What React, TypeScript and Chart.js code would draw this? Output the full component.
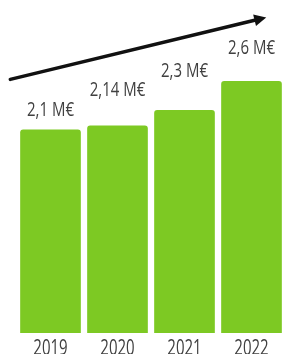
import React, { useEffect, useRef } from "react";
import { Chart, registerables } from "chart.js";

Chart.register(...registerables);

const years = ["2019", "2020", "2021", "2022"];
const revenue = [2.1, 2.14, 2.3, 2.6];
const valueLabels = ["2,1 M€", "2,14 M€", "2,3 M€", "2,6 M€"];
const labelGap = [14, 30, 33, 27];
const arrowFrom = { x: -0.6, y: 2.62 };
const arrowTo = { x: 3.22, y: 3.26 };

const GREEN = "#7dc923";
const TEXT = "#404040";
const FONT = "'Open Sans', 'Noto Sans', sans-serif";

function stretchedText(ctx: any, text: string, x: number, baseline: number, sy: number) {
  ctx.save();
  ctx.translate(x, baseline);
  ctx.scale(1, sy);
  ctx.fillText(text, 0, 0);
  ctx.restore();
}

const decorPlugin = {
  id: "decor",
  afterDatasetsDraw(chart: any) {
    const ctx = chart.ctx;
    const xs = chart.scales.x;
    const ys = chart.scales.y;
    const meta = chart.getDatasetMeta(0);
    ctx.save();
    ctx.fillStyle = TEXT;
    ctx.font = `15px ${FONT}`;
    ctx.textAlign = "center";
    ctx.textBaseline = "alphabetic";
    meta.data.forEach((bar: any, i: number) => {
      stretchedText(ctx, valueLabels[i], bar.x, bar.y - labelGap[i], 1.3);
    });
    // category labels under the bars
    const labels = chart.data.labels as string[];
    labels.forEach((t, i) => {
      stretchedText(ctx, t, xs.getPixelForTick(i), chart.chartArea.bottom + 21.5, 1.45);
    });
    // arrow
    const x1 = xs.getPixelForValue(arrowFrom.x);
    const y1 = ys.getPixelForValue(arrowFrom.y);
    const x2 = xs.getPixelForValue(arrowTo.x);
    const y2 = ys.getPixelForValue(arrowTo.y);
    const ang = Math.atan2(y2 - y1, x2 - x1);
    const head = 12;
    const bx = x2 - head * Math.cos(ang);
    const by = y2 - head * Math.sin(ang);
    ctx.strokeStyle = "#111";
    ctx.fillStyle = "#111";
    ctx.lineWidth = 3.5;
    ctx.lineCap = "round";
    ctx.beginPath();
    ctx.moveTo(x1, y1);
    ctx.lineTo(bx, by);
    ctx.stroke();
    ctx.beginPath();
    ctx.moveTo(x2, y2);
    ctx.lineTo(bx + 6 * Math.sin(ang), by - 6 * Math.cos(ang));
    ctx.lineTo(bx - 6 * Math.sin(ang), by + 6 * Math.cos(ang));
    ctx.closePath();
    ctx.fill();
    ctx.restore();
  },
};

export default function App() {
  const ref = useRef<HTMLCanvasElement | null>(null);
  useEffect(() => {
    document.body.style.margin = "0";
    const chart = new Chart(ref.current!, {
      type: "bar",
      data: {
        labels: years,
        datasets: [
          {
            data: revenue,
            backgroundColor: GREEN,
            borderRadius: 3,
            borderSkipped: "bottom",
            barThickness: 60,
          },
        ],
      },
      options: {
        animation: false,
        responsive: false,
        layout: { padding: { left: 17, right: 0, top: 0, bottom: 21 } },
        plugins: { legend: { display: false }, tooltip: { enabled: false } },
        scales: {
          x: {
            grid: { display: false, drawTicks: false },
            border: { display: false },
            ticks: { display: false },
          },
          y: { display: false, min: 0, max: 3.44 },
        },
      },
      plugins: [decorPlugin],
    });
    return () => chart.destroy();
  }, []);
  return (
    <div style={{ width: 282, height: 354, overflow: "hidden" }}>
      <canvas ref={ref} width={285} height={354} />
    </div>
  );
}
